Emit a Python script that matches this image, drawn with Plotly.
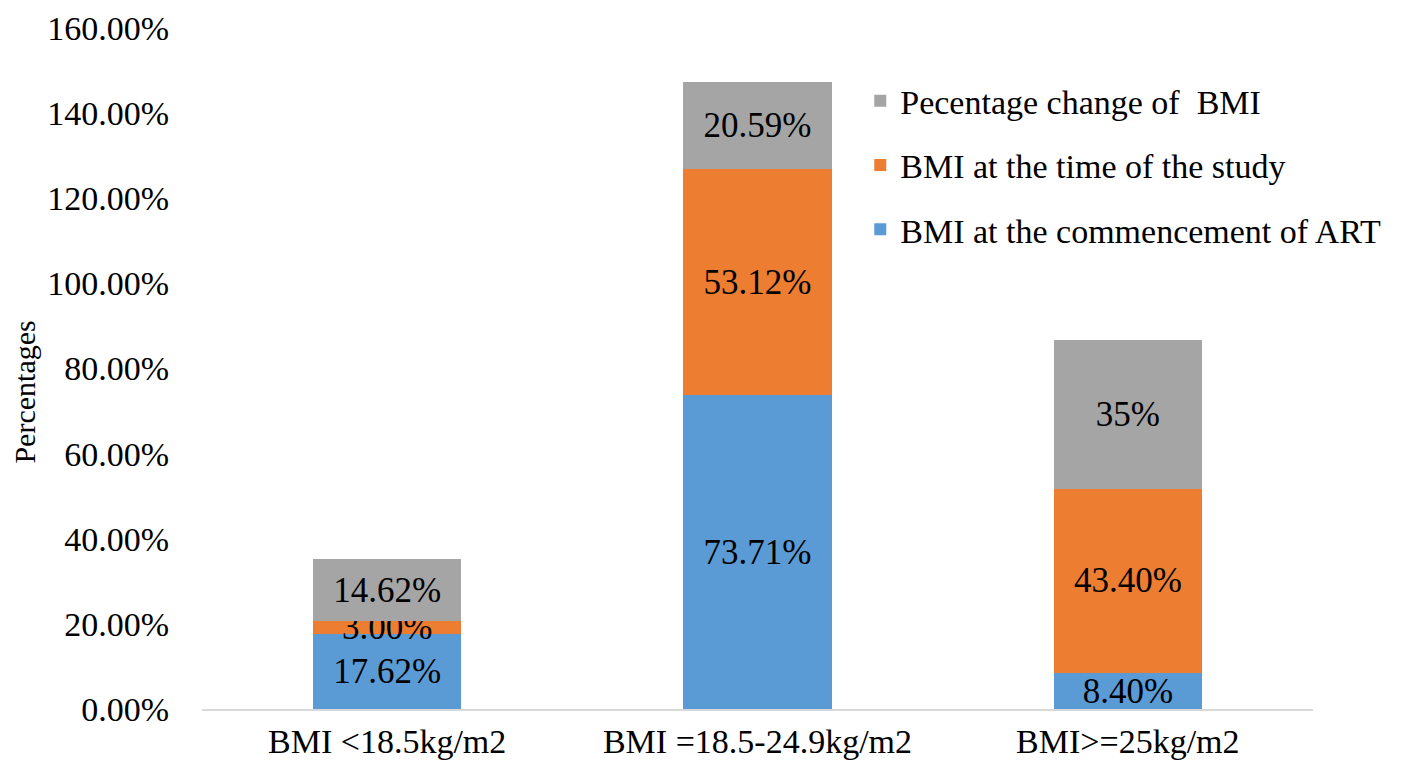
import plotly.graph_objects as go

categories = ["BMI <18.5kg/m2", "BMI =18.5-24.9kg/m2", "BMI>=25kg/m2"]
commencement = [17.62, 73.71, 8.40]
study_time = [3.00, 53.12, 43.40]
pct_change = [14.62, 20.59, 35.0]
commencement_labels = ["17.62%", "73.71%", "8.40%"]
study_labels = ["3.00%", "53.12%", "43.40%"]
change_labels = ["14.62%", "20.59%", "35%"]
y_ticks = [0, 20, 40, 60, 80, 100, 120, 140, 160]

FONT = "Liberation Serif"
series = [
    ("BMI at the commencement of ART", commencement, commencement_labels, "#5B9BD5", 3),
    ("BMI at the time of the study", study_time, study_labels, "#ED7D31", 2),
    ("Pecentage change of  BMI", pct_change, change_labels, "#A5A5A5", 1),
]

fig = go.Figure()
for name, vals, labels, color, rank in series:
    fig.add_trace(go.Bar(
        x=categories, y=vals, name=name, text=labels,
        textposition="inside", insidetextanchor="middle", constraintext="none",
        textfont=dict(family=FONT, size=35, color="black"),
        marker=dict(color=color, line=dict(width=0)),
        legendgroup=f"g{rank}", legendrank=rank,
    ))

fig.update_layout(
    barmode="stack",
    bargap=0.6,
    width=1400, height=756,
    margin=dict(l=194, r=95, t=20, b=55),
    paper_bgcolor="white", plot_bgcolor="white",
    font=dict(family=FONT, size=34, color="black"),
    showlegend=True,
    legend=dict(
        x=0.5925, y=0.935, xanchor="left", yanchor="top",
        traceorder="grouped", tracegroupgap=17,
        font=dict(family=FONT, size=34, color="black"),
        bgcolor="rgba(0,0,0,0)",
    ),
    annotations=[dict(
        text="Percentages", xref="paper", yref="paper",
        x=-0.160, y=0.465, xanchor="center", yanchor="middle",
        textangle=-90, showarrow=False, borderpad=0,
        font=dict(family=FONT, size=30, color="black"),
    )],
)
fig.update_xaxes(
    showline=True, linecolor="#D9D9D9", linewidth=2, automargin=False,
    showgrid=False, ticks="", ticklabelstandoff=1,
    tickfont=dict(family=FONT, size=34),
)
fig.update_yaxes(
    range=[0, 160], tickvals=y_ticks, ticktext=[f"{v:.2f}%" for v in y_ticks],
    showgrid=False, showline=False, zeroline=False, ticks="", automargin=False,
    ticklabelstandoff=32, ticklabeloverflow="allow",
    tickfont=dict(family=FONT, size=34),
)

fig.write_html("out.html")
